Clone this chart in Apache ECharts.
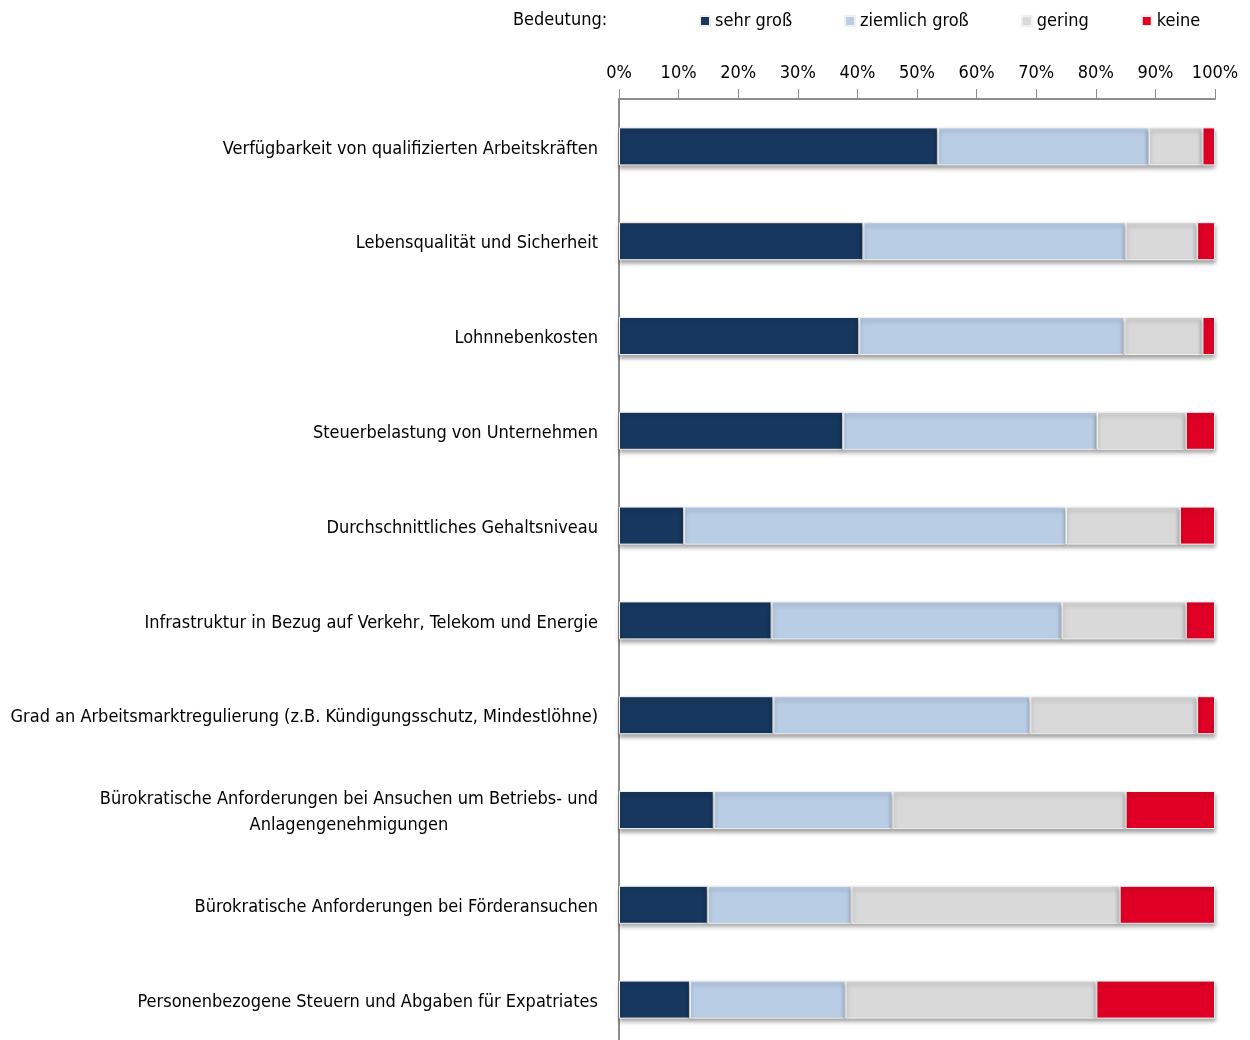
<!DOCTYPE html>
<html>
<head>
<meta charset="utf-8">
<script src="https://cdn.jsdelivr.net/npm/echarts@6/dist/echarts.min.js"></script>
<style>
  html, body { margin: 0; padding: 0; background: #fff; }
  #main { width: 1250px; height: 1040px; }
</style>
</head>
<body>
<div id="main"></div>
<script>
// Kategorien (von oben nach unten)
var categories = [
  'Verfügbarkeit von qualifizierten Arbeitskräften',
  'Lebensqualität und Sicherheit',
  'Lohnnebenkosten',
  'Steuerbelastung von Unternehmen',
  'Durchschnittliches Gehaltsniveau',
  'Infrastruktur in Bezug auf Verkehr, Telekom und Energie',
  'Grad an Arbeitsmarktregulierung (z.B. Kündigungsschutz, Mindestlöhne)',
  'Bürokratische Anforderungen bei Ansuchen um Betriebs- und\nAnlagengenehmigungen',
  'Bürokratische Anforderungen bei Förderansuchen',
  'Personenbezogene Steuern und Abgaben für Expatriates'
];
var seriesNames = ['sehr groß', 'ziemlich groß', 'gering', 'keine'];
// Anteile in %
var sehrGross     = [53.5, 41, 40.3, 37.6, 10.9, 25.6, 25.9, 15.9, 14.9, 11.9];
var ziemlichGross = [35.4, 44, 44.5, 42.6, 64.1, 48.7, 43.1, 30.0, 24.1, 26.1];
var gering        = [9.0, 12, 13.1, 14.9, 19.1, 20.8, 28.0, 39.1, 45.0, 42.1];
var keine         = [2.1, 3, 2.1, 4.9, 5.9, 4.9, 3.0, 15.0, 16.0, 19.9];
var tickValues = [0, 10, 20, 30, 40, 50, 60, 70, 80, 90, 100];

var colors = ['#17375E', '#B9CDE5', '#D9D9D9', '#E00025'];
var font = '"DejaVu Sans Condensed", "Liberation Sans", sans-serif';

var chart = echarts.init(document.getElementById('main'), null, { renderer: 'canvas' });

function makeSeries(name, data, idx) {
  return {
    name: name,
    type: 'bar',
    stack: 'total',
    barWidth: 38,
    data: data,
    itemStyle: {
      color: colors[idx],
      borderColor: '#f0f0f0',
      borderWidth: 1,
      shadowColor: 'rgba(0,0,0,0.35)',
      shadowBlur: 4,
      shadowOffsetY: 3
    }
  };
}

var option = {
  backgroundColor: '#ffffff',
  animation: false,
  color: colors,
  graphic: [{
    type: 'text',
    left: 513,
    top: 11,
    style: { text: 'Bedeutung:', font: '18px ' + font, fill: '#000' }
  }],
  legend: {
    left: 694,
    top: 7,
    icon: 'rect',
    itemWidth: 10,
    itemHeight: 10,
    itemGap: 52,
    textStyle: { fontFamily: font, fontSize: 18, color: '#000', padding: [0, 0, 0, 0] },
    data: seriesNames
  },
  grid: {
    left: 619,
    right: 35,
    top: 99,
    height: 948,
    outerBoundsMode: 'none',
    containLabel: false
  },
  xAxis: {
    type: 'value',
    position: 'top',
    min: 0,
    max: 100,
    interval: 10,
    axisLine: { show: true, lineStyle: { color: '#8c8c8c', width: 2 } },
    axisTick: { show: true, length: 10, lineStyle: { color: '#8c8c8c', width: 1 } },
    splitLine: { show: false },
    axisLabel: {
      margin: 17,
      fontFamily: font,
      fontSize: 18,
      color: '#000',
      formatter: function (v) { return tickValues.indexOf(v) >= 0 ? v + '%' : ''; }
    }
  },
  yAxis: {
    type: 'category',
    inverse: true,
    data: categories,
    axisLine: { show: true, lineStyle: { color: '#8c8c8c', width: 2 } },
    axisTick: { show: false },
    axisLabel: {
      margin: 21,
      padding: [5, 0, 0, 0],
      fontFamily: font,
      fontSize: 18,
      color: '#000',
      formatter: function (v) {
        return v.split('\n').map(function (l) { return '{c|' + l + '}'; }).join('\n');
      },
      rich: {
        c: { align: 'center', fontFamily: font, fontSize: 18, lineHeight: 26, color: '#000' }
      }
    }
  },
  series: [
    makeSeries(seriesNames[0], sehrGross, 0),
    makeSeries(seriesNames[1], ziemlichGross, 1),
    makeSeries(seriesNames[2], gering, 2),
    makeSeries(seriesNames[3], keine, 3)
  ]
};

chart.setOption(option);
</script>
</body>
</html>
